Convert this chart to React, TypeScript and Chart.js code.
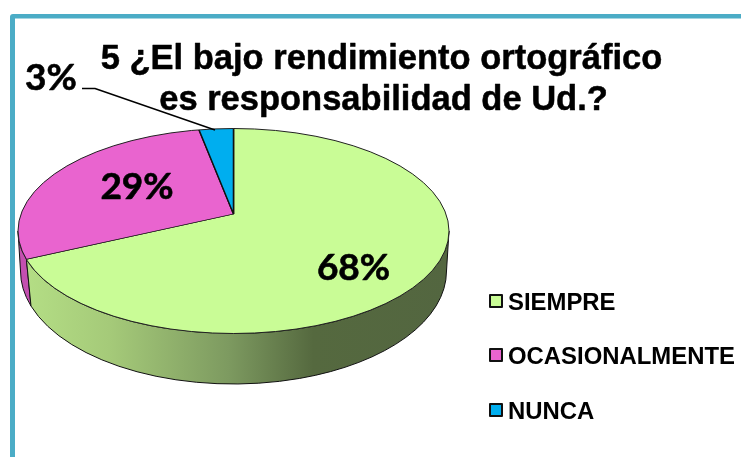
import React, { useEffect, useRef } from "react";
import { Chart, registerables } from "chart.js";

Chart.register(...registerables);

const categories = ["SIEMPRE", "OCASIONALMENTE", "NUNCA"];
const values = [68, 29, 3];
const colors = ["#c9fc96", "#e964cf", "#00aeef"];
const sideColors = ["", "#c44fb0", ""];
const titleLines = ["5 ¿El bajo rendimiento ortográfico", "es responsabilidad de Ud.?"];

const top = { cx: 233.5, cy: 231, rx: 215.5, ry: 102.5 };
const bot = { cx: 233.5, cy: 271, rx: 213, ry: 113 };
const apex = { x: 233.5, y: 214 };
const sx = 290;
const sy = 135;

function ellipsePath(ctx: CanvasRenderingContext2D, e: typeof top) {
  ctx.beginPath();
  ctx.ellipse(e.cx, e.cy, e.rx, e.ry, 0, 0, Math.PI * 2);
}

// where a slice's boundary (scaled ray out of the apex) meets the top rim, as an ellipse parameter
function rimParam(angle: number, e: typeof top) {
  const dx = (sx * Math.cos(angle)) / e.rx;
  const dy = (sy * Math.sin(angle)) / e.ry;
  const ox = (apex.x - e.cx) / e.rx;
  const oy = (apex.y - e.cy) / e.ry;
  const a = dx * dx + dy * dy;
  const b = 2 * (ox * dx + oy * dy);
  const c = ox * ox + oy * oy - 1;
  const k = (-b + Math.sqrt(b * b - 4 * a * c)) / (2 * a);
  return Math.atan2(oy + k * dy, ox + k * dx);
}

function heavyText(ctx: CanvasRenderingContext2D, s: string, x: number, y: number, w: number) {
  ctx.lineWidth = w;
  ctx.strokeStyle = "#000000";
  ctx.lineJoin = "round";
  ctx.strokeText(s, x, y);
  ctx.fillText(s, x, y);
}

const pie3d = {
  id: "pie3d",
  beforeDraw(chart: any) {
    const { ctx } = chart;
    ctx.save();
    ctx.fillStyle = "#ffffff";
    ctx.fillRect(0, 0, 741, 457);
    ctx.fillStyle = "#4bacc6";
    ctx.beginPath();
    ctx.roundRect(10, 14, 800, 600, 3);
    ctx.roundRect(15, 18.5, 800, 600, 0);
    ctx.fill("evenodd");
    ctx.restore();
  },
  beforeDatasetsDraw(chart: any) {
    const { ctx } = chart;
    const arcs = chart.getDatasetMeta(0).data;
    const split = rimParam(arcs[0].endAngle, top);
    const splitNorm = split < 0 ? split + Math.PI * 2 : split;
    const splitBot = splitNorm - 0.035;

    const side = (t0: number, t1: number, b0: number, b1: number, fill: any) => {
      ctx.beginPath();
      ctx.ellipse(top.cx, top.cy, top.rx, top.ry, 0, t0, t1);
      ctx.ellipse(bot.cx, bot.cy, bot.rx, bot.ry, 0, b1, b0, true);
      ctx.closePath();
      ctx.fillStyle = fill;
      ctx.fill();
      ctx.strokeStyle = "#111111";
      ctx.lineWidth = 1;
      ctx.stroke();
    };

    const grad = ctx.createLinearGradient(25, 0, 449, 0);
    grad.addColorStop(0, "#b4de85");
    grad.addColorStop(0.2, "#a5ca79");
    grad.addColorStop(0.48, "#7d9a60");
    grad.addColorStop(0.68, "#55693f");
    grad.addColorStop(1, "#536640");

    ctx.save();
    side(splitNorm, Math.PI, splitBot, Math.PI, sideColors[1]);
    side(0, splitNorm, 0, splitBot, grad);
    ctx.restore();

    const R = arcs[0].outerRadius;
    ctx.save();
    ellipsePath(ctx, top);
    ctx.clip();
    ctx.translate(apex.x, apex.y);
    ctx.scale(sx / R, sy / R);
    ctx.translate(-arcs[0].x, -arcs[0].y);
  },
  afterDatasetsDraw(chart: any) {
    const { ctx } = chart;
    ctx.restore();
    ctx.save();
    ellipsePath(ctx, top);
    ctx.strokeStyle = "#222222";
    ctx.lineWidth = 1;
    ctx.stroke();
    ctx.restore();
  },
  afterDraw(chart: any) {
    const { ctx } = chart;
    ctx.save();
    ctx.fillStyle = "#000000";
    ctx.textBaseline = "alphabetic";

    // title
    ctx.textAlign = "center";
    ctx.font = 'bold 34.5px "Liberation Sans"';
    heavyText(ctx, titleLines[0], 381.5, 69, 0.5);
    heavyText(ctx, titleLines[1], 383.5, 110, 0.5);

    // data labels
    ctx.font = 'bold 37px Lato';
    const labelPos = [
      [353.5, 280],
      [137, 199],
      [51, 90],
    ];
    values.forEach((v, i) => heavyText(ctx, `${v}%`, labelPos[i][0], labelPos[i][1], 0.6));

    // leader line
    ctx.strokeStyle = "#000000";
    ctx.lineWidth = 1.4;
    ctx.beginPath();
    ctx.moveTo(82, 88.5);
    ctx.lineTo(95, 88.5);
    ctx.lineTo(215, 130);
    ctx.stroke();

    // legend
    ctx.textAlign = "left";
    ctx.font = 'bold 23.9px "Liberation Sans"';
    const legendY = [301, 355, 410];
    categories.forEach((c, i) => {
      ctx.fillStyle = colors[i];
      ctx.strokeStyle = "#111111";
      ctx.lineWidth = 2;
      ctx.fillRect(490, legendY[i] - 6, 12, 12);
      ctx.strokeRect(490, legendY[i] - 6, 12, 12);
      ctx.fillStyle = "#000000";
      ctx.fillText(c, 508, legendY[i] + 8.5);
    });
    ctx.restore();
  },
};

export default function App() {
  const ref = useRef<HTMLCanvasElement>(null);
  useEffect(() => {
    document.body.style.margin = "0";
    const chart = new Chart(ref.current!, {
      type: "pie",
      data: {
        labels: categories,
        datasets: [
          {
            data: values,
            backgroundColor: colors,
            borderColor: "#111111",
            borderWidth: 1.2,
          },
        ],
      },
      options: {
        responsive: false,
        animation: false,
        devicePixelRatio: 1,
        layout: { padding: 0 },
        plugins: { legend: { display: false }, tooltip: { enabled: false } },
      },
      plugins: [pie3d],
    } as any);
    return () => chart.destroy();
  }, []);
  return <canvas ref={ref} width={741} height={457} style={{ display: "block" }} />;
}
